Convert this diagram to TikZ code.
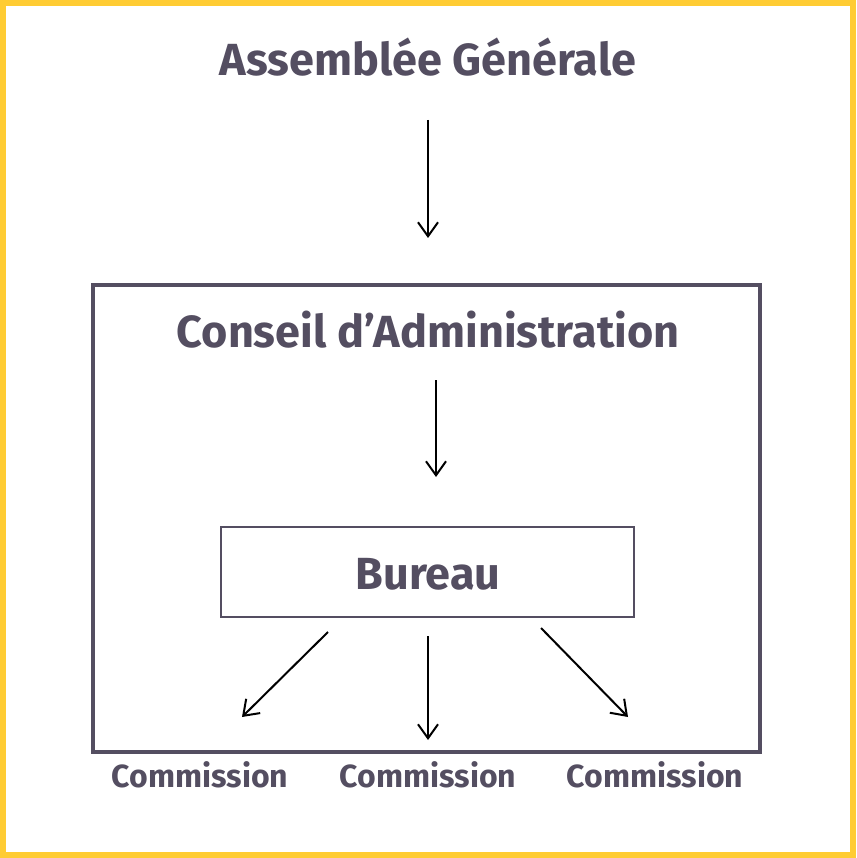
\documentclass[tikz,border=0pt]{standalone}
\usepackage{fontspec}
\setmainfont{Fira Sans}
\usetikzlibrary{arrows.meta, positioning}
\definecolor{txtgrey}{HTML}{544E61}
\definecolor{frameyel}{HTML}{FFCC33}
\tikzset{titl/.style={font=\bfseries\fontsize{45}{52}\selectfont,text=txtgrey,inner sep=0pt,anchor=base}}
\tikzset{comm/.style={font=\bfseries\fontsize{32}{38}\selectfont,text=txtgrey,inner sep=0pt,anchor=base}}
\tikzset{arr/.style={-{Straight Barb[length=14pt,width=20pt]},line width=2pt,black}}

\begin{document}
\begin{tikzpicture}[x=1pt,y=-1pt]
\useasboundingbox (0,0) rectangle (856,858);
\draw[frameyel,line width=6pt] (3,3) rectangle (853,855);

\node [titl] at (428,76) (ag) {Assemblée Générale};
\node [draw=txtgrey,line width=4pt,minimum width=667pt,minimum height=467pt,inner sep=0pt] at (426.5,518.5) (ca) {};
\node [titl] at (428,347) (catxt) {Conseil d’Administration};
\node [draw=txtgrey,line width=1.5pt,minimum width=413pt,minimum height=90pt,inner sep=0pt] at (427.5,572) (bur) {};
\node [titl] at (428,589) (burtxt) {Bureau};

\node [comm] at (200,787) (c1) {Commission};
\node [comm] at (428,787) (c2) {Commission};
\node [comm] at (655,787) (c3) {Commission};

% arrow ends
\coordinate (a1) at (428,120);
\coordinate (b1) at (428,238);
\coordinate (a2) at (436,380);
\coordinate (b2) at (436,477);
\coordinate (l1) at (328,632);
\coordinate (l2) at (242,717);
\coordinate (m1) at (428,636);
\coordinate (m2) at (428,740);
\coordinate (r1) at (541,628);
\coordinate (r2) at (628,717);

\draw[arr] (a1) -- (b1);
\draw[arr] (a2) -- (b2);
\draw[arr] (l1) -- (l2);
\draw[arr] (m1) -- (m2);
\draw[arr] (r1) -- (r2);
\end{tikzpicture}
\end{document}
